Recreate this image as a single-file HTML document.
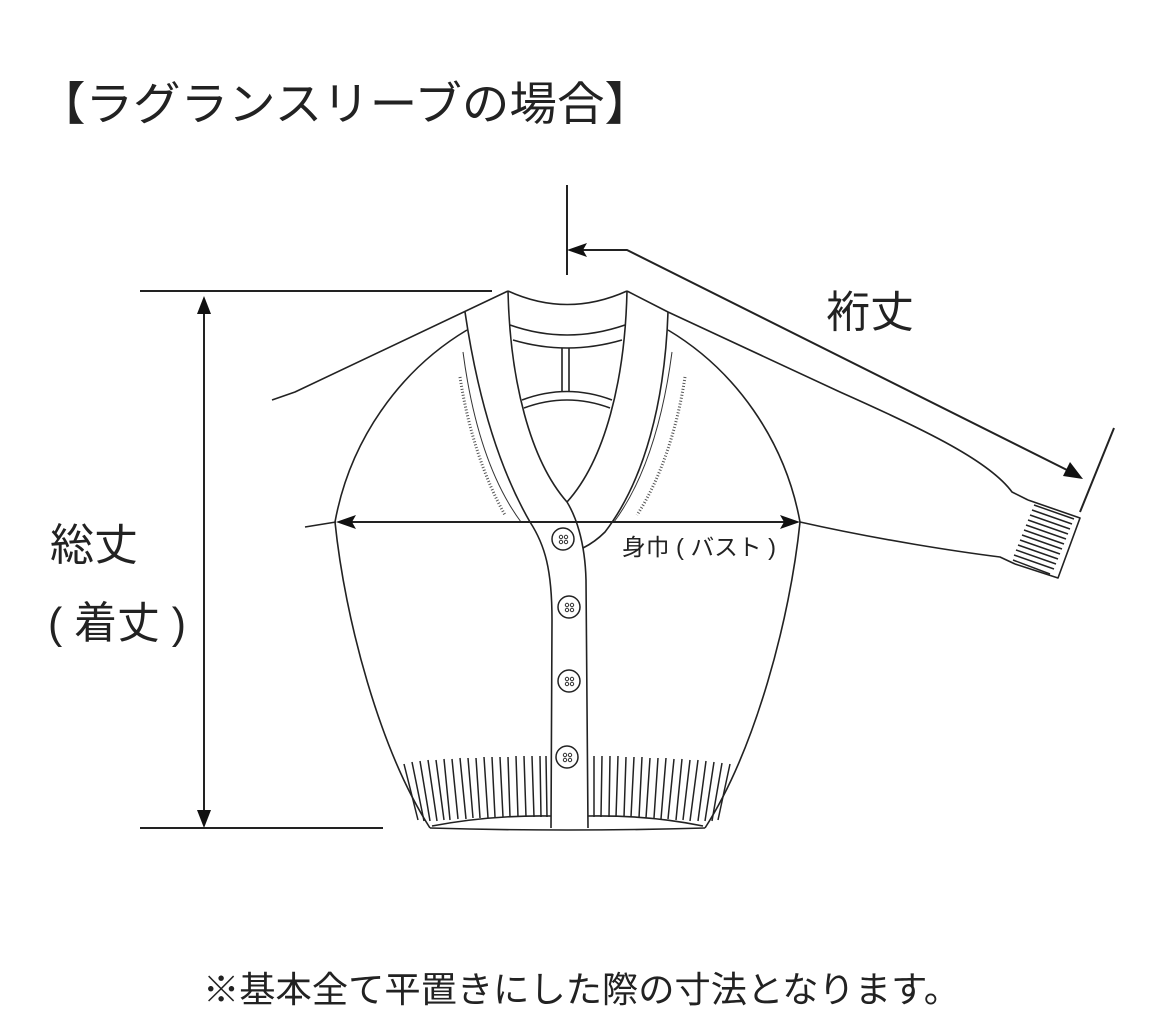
<!DOCTYPE html>
<html><head><meta charset="utf-8"><style>
html,body{margin:0;padding:0;background:#fff;}
svg{display:block;}
text{font-family:"Liberation Sans","Noto Sans CJK JP",sans-serif;fill:#222;}
</style></head><body>
<svg width="1170" height="1034" viewBox="0 0 1170 1034" xmlns="http://www.w3.org/2000/svg">
<text x="38" y="120" font-size="46" textLength="614" lengthAdjust="spacingAndGlyphs">【ラグランスリーブの場合】</text>

<g fill="none" stroke="#222" stroke-width="1.6" stroke-linejoin="round">
<path d="M272,400 L295,392 L508,291"/>
<path d="M305,527 L336,522"/>
<path d="M508,291 Q567,318 627,291"/>
<path d="M510,325 Q567,345 625,325"/>
<path d="M513,340 Q567,356 622,340"/>
<path d="M562,348 V392 M569,348 V392"/>
<path d="M522,400 Q567,383 612,400"/>
<path d="M524,408 Q567,392 610,408"/>
<path d="M508,291 C510,380 530,460 567,502 C575,515 585,540 586,580 L588,828"/>
<path d="M627,291 C625,380 605,460 567,502"/>
<path d="M465,312 C478,400 500,470 530,522 C545,545 552,570 552,620 L551,828"/>
<path d="M668,312 C665,400 645,480 605,532 Q595,542 583,548"/>
<path d="M627,291 L668,312 L840,392 C930,432 990,462 1012,492 L1028,500"/>
<path d="M467,330 C400,370 350,440 335,522"/>
<path d="M668,330 C735,370 785,440 800,522"/>
<path d="M335,522 C345,620 380,750 430,828"/>
<path d="M800,522 C790,620 755,750 705,828"/>
<path d="M430,828 Q567,832 705,828"/>
<path d="M432,826 Q490,815 551,816 M588,816 Q650,815 703,826"/>
<path d="M800,522 C880,540 960,552 1000,557 L1015,564"/>
<path d="M1028,500 L1080,518 L1058,578 L1015,564"/>
</g>
<g stroke="#222" stroke-width="1.5">
<path d="M1034,505 L1074,519 M1032,510 L1072,524 M1030,515 L1070,529 M1028,520 L1068,534 M1026,525 L1066,539 M1024,530 L1064,544 M1022,535 L1062,549 M1020,540 L1060,554 M1018,545 L1058,559 M1016,550 L1056,564 M1014,555 L1054,569 M1013,560 L1050,574"/>
</g>
<g fill="none" stroke="#333" stroke-width="1">
<path d="M463,352 C472,420 490,480 521,522"/>
<path d="M672,352 C663,420 645,480 614,522"/>
</g>
<g fill="none" stroke="#555" stroke-width="3" stroke-dasharray="1 2">
<path d="M460,377 C468,430 485,480 505,515"/>
<path d="M685,377 C677,430 660,480 637,515"/>
</g>
<g stroke="#222" stroke-width="1.5">
<path d="M404,764 L418,820 M412,762 L424,821 M420,761 L430,821 M428,760 L437,821 M436,760 L444,820 M444,759 L450,820 M452,759 L458,819 M460,758 L466,819 M468,758 L473,818 M476,758 L480,818 M484,757 L488,818 M492,757 L495,817 M500,757 L503,817 M508,757 L510,817 M516,756 L518,817 M524,756 L526,817 M532,756 L534,817 M540,756 L541,817 M546,756 L547,817"/>
<path d="M594,756 L594,817 M602,756 L601,817 M610,756 L609,817 M618,756 L616,817 M626,757 L624,817 M634,757 L631,817 M642,757 L639,818 M650,758 L646,818 M658,758 L654,818 M666,758 L661,819 M674,759 L668,819 M682,759 L676,820 M690,760 L683,820 M698,760 L690,821 M706,761 L698,821 M714,762 L705,821 M722,763 L712,821 M730,764 L718,820"/>
</g>
<g fill="none" stroke="#222" stroke-width="1.5">
<circle cx="563" cy="539" r="11"/><circle cx="569" cy="607" r="11"/><circle cx="569" cy="681" r="11"/><circle cx="567" cy="757" r="11"/>
</g>
<g fill="none" stroke="#333" stroke-width="1">
<circle cx="561" cy="537" r="1.7"/><circle cx="566" cy="537" r="1.7"/><circle cx="561" cy="542" r="1.7"/><circle cx="566" cy="542" r="1.7"/>
<circle cx="567" cy="605" r="1.7"/><circle cx="572" cy="605" r="1.7"/><circle cx="567" cy="610" r="1.7"/><circle cx="572" cy="610" r="1.7"/>
<circle cx="567" cy="679" r="1.7"/><circle cx="572" cy="679" r="1.7"/><circle cx="567" cy="684" r="1.7"/><circle cx="572" cy="684" r="1.7"/>
<circle cx="565" cy="755" r="1.7"/><circle cx="570" cy="755" r="1.7"/><circle cx="565" cy="760" r="1.7"/><circle cx="570" cy="760" r="1.7"/>
</g>

<g fill="none" stroke="#222" stroke-width="2">
<path d="M140,291 H492"/>
<path d="M140,828 H383"/>
<path d="M204,300 V820"/>
<path d="M340,522 H794"/>
<path d="M567,185 V275"/>
<path d="M572,250 H627 L1075,474"/>
<path d="M1114,428 L1080,512"/>
</g>
<g fill="#111">
<path d="M204,296 L197,314 L211,314 Z"/>
<path d="M204,828 L197,810 L211,810 Z"/>
<path d="M336,522 L356,515 L352,522 L356,529 Z"/>
<path d="M800,522 L780,515 L784,522 L780,529 Z"/>
<path d="M567,250 L587,243 L583,250 L587,257 Z"/>
<path d="M1083,479 L1063,476 L1070,462 Z"/>
</g>

<text x="826" y="327" font-size="44">裄丈</text>
<text x="50" y="560" font-size="44">総丈</text>
<text x="48" y="638" font-size="44" textLength="138" lengthAdjust="spacingAndGlyphs">( 着丈 )</text>
<text x="622" y="555" font-size="23" textLength="154" lengthAdjust="spacingAndGlyphs">身巾 ( バスト )</text>
<text x="203" y="1002" font-size="36" textLength="757" lengthAdjust="spacingAndGlyphs">※基本全て平置きにした際の寸法となります。</text>
</svg>
</body></html>
